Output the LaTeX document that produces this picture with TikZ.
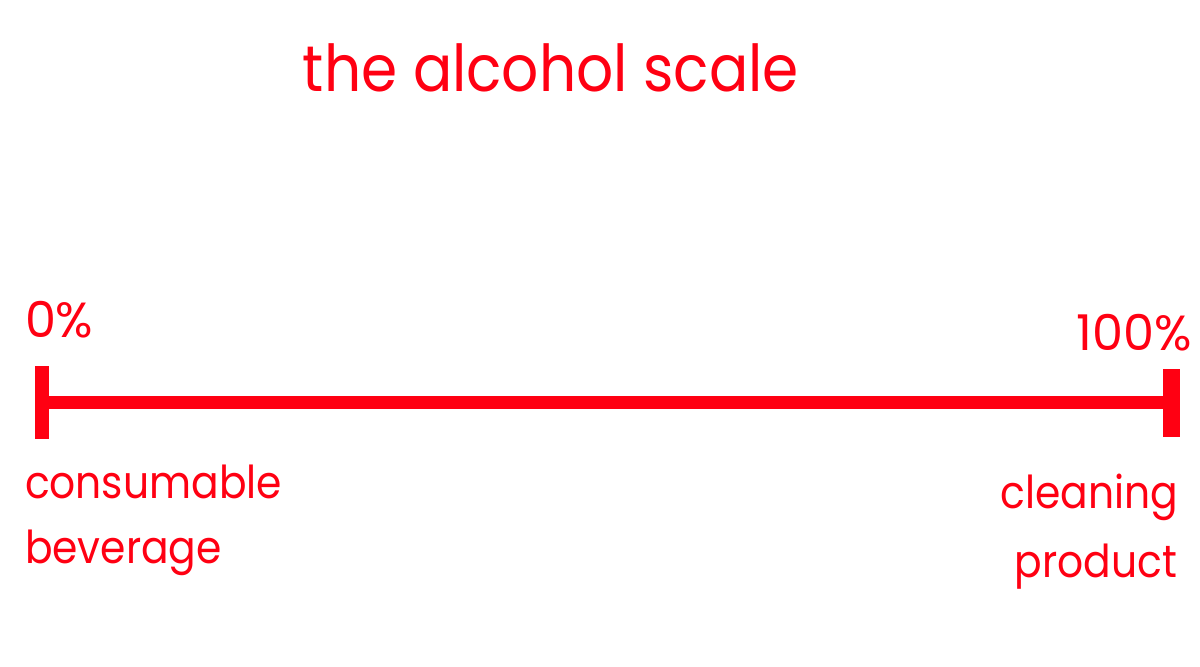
\documentclass[tikz,border=0pt]{standalone}
\usepackage{fontspec}
\setmainfont{Poppins}
\newfontfamily\narrowfont[FakeStretch=0.9]{Poppins}
\definecolor{scalered}{RGB}{255,0,18}
\begin{document}
\begin{tikzpicture}[x=0.75pt,y=-0.75pt,
  lbl/.style={text=scalered,inner sep=0pt,outer sep=0pt},
  word/.style={lbl,font=\narrowfont\fontsize{34pt}{40pt}\selectfont},
  pct/.style={lbl,font=\fontsize{37pt}{44pt}\selectfont},
  bar/.style={fill=scalered,draw=none}]
\useasboundingbox (0,0) rectangle (1200,667);
% title
\node[lbl,anchor=base,font=\narrowfont\fontsize{48.5pt}{56pt}\selectfont] (title) at (551,92) {the alcohol scale};
% scale line and end bars
\coordinate (lend) at (42,402.5);
\coordinate (rend) at (1171,402.5);
\fill[bar] (35,366) rectangle (49,439);
\fill[bar] (1163,369) rectangle (1180,437);
\draw[scalered,line width=9.75pt] (lend) -- (rend);
% end labels
\node[pct,anchor=base west] (zero) at (25,337) {0\%};
\node[pct,anchor=base east] (hundred) at (1192,350) {100\%};
\node[word,anchor=base west] (cons) at (25,498) {consumable};
\node[word,anchor=base west] (bev) at (25,563) {beverage};
\node[word,anchor=base east] (clean) at (1178,508) {cleaning};
\node[word,anchor=base east] (prod) at (1177,577) {product};
\end{tikzpicture}
\end{document}
